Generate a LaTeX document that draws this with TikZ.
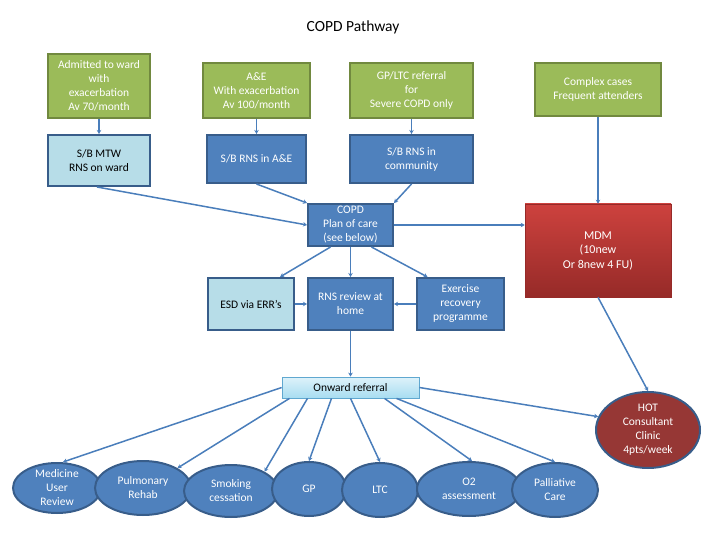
\documentclass[tikz,border=0pt]{standalone}
\usepackage{fontspec}
\setmainfont{Carlito}
\usetikzlibrary{shapes.geometric,arrows.meta,positioning}
\definecolor{entrygreen}{RGB}{155,187,89}
\definecolor{entryedge}{RGB}{113,137,63}
\definecolor{rnsblue}{RGB}{79,129,189}
\definecolor{rnsedge}{RGB}{56,93,138}
\definecolor{paleblue}{RGB}{183,221,232}
\definecolor{linkblue}{RGB}{74,126,187}
\definecolor{mdmtop}{RGB}{205,66,62}
\definecolor{mdmbottom}{RGB}{150,42,40}
\definecolor{hotred}{RGB}{150,55,53}
\definecolor{refertop}{RGB}{222,242,250}
\definecolor{referbottom}{RGB}{168,221,241}
\definecolor{referedge}{RGB}{96,168,208}
\tikzset{
    basebox/.style={rectangle, align=center, inner sep=1pt, font=\fontsize{11.5}{14}\selectfont},
    greenbox/.style={basebox, draw=entryedge, line width=2pt, fill=entrygreen, text=white},
    bluebox/.style={basebox, draw=rnsedge, line width=2pt, fill=rnsblue, text=white},
    palebox/.style={basebox, draw=rnsedge, line width=2pt, fill=paleblue, text=black},
    mdmbox/.style={basebox, draw=mdmbottom, line width=0.6pt, top color=mdmtop, bottom color=mdmbottom, text=white, font=\fontsize{12}{14.5}\selectfont},
    referbox/.style={basebox, draw=referedge, line width=0.8pt, top color=refertop, bottom color=referbottom, text=black},
    bubble/.style={ellipse, align=center, inner xsep=0pt, inner ysep=-2pt, draw=rnsedge, line width=2pt, fill=rnsblue, text=white, font=\fontsize{11.5}{14}\selectfont},
    hotbubble/.style={bubble, fill=hotred},
    arrow/.style={draw=linkblue, line width=1.5pt, -{Stealth[length=4pt,width=4.5pt]}}
}

\begin{document}
\begin{tikzpicture}[x=1pt,y=-1pt]
\useasboundingbox (0,0) rectangle (720,540);

% Title
\node[font=\fontsize{15.5}{18}\selectfont] (title) at (353,27) {COPD Pathway};

% Entry routes (top row)
\node[greenbox, minimum width=102, minimum height=64] (admitted) at (99,86) {Admitted to ward\\with\\exacerbation\\Av 70/month};
\node[greenbox, minimum width=107, minimum height=55] (ae_entry) at (256.5,90.5) {A\&E\\With exacerbation\\Av 100/month};
\node[greenbox, minimum width=123, minimum height=55] (gp_referral) at (411.5,90.5) {GP/LTC referral\\for\\Severe COPD only};
\node[greenbox, minimum width=126, minimum height=53] (complex) at (598,89.5) {Complex cases\\Frequent attenders};

% Seen by
\node[palebox, minimum width=102, minimum height=51] (sb_mtw) at (99,160.5) {S/B MTW\\RNS on ward};
\node[bluebox, minimum width=99, minimum height=48] (sb_ae) at (256.5,159) {S/B RNS in A\&E};
\node[bluebox, minimum width=123, minimum height=48] (sb_comm) at (411.5,159) {S/B RNS in\\community};

% Plan of care and MDM
\node[bluebox, minimum width=85, minimum height=42] (plan) at (350.5,225) {COPD\\Plan of care\\(see below)};
\node[mdmbox, minimum width=146, minimum height=93] (mdm) at (598,250.5) {MDM\\(10new\\Or 8new 4 FU)};

% Care at home
\node[palebox, minimum width=86, minimum height=52] (esd) at (251,304) {ESD via ERR's};
\node[bluebox, minimum width=85, minimum height=52] (rns_home) at (350.5,304) {RNS review at\\home};
\node[bluebox, minimum width=87, minimum height=52] (exercise) at (460.5,304) {Exercise\\recovery\\programme};

% Onward referral and clinic
\node[referbox, minimum width=137, minimum height=21] (onward) at (350.5,387.5) {Onward referral};
\node[hotbubble, minimum width=104, minimum height=76] (hot) at (648,430) {HOT\\Consultant\\Clinic\\4pts/week};

% Services (bottom row)
\node[bubble, minimum width=88, minimum height=50] (medicine) at (57,488) {Medicine\\User\\Review};
\node[bubble, minimum width=96, minimum height=54] (pulm_rehab) at (143,488) {Pulmonary\\Rehab};
\node[bubble, minimum width=94, minimum height=52] (smoking) at (231,491) {Smoking\\cessation};
\node[bubble, minimum width=74, minimum height=54] (gp) at (309,489) {GP};
\node[bubble, minimum width=76, minimum height=54] (ltc) at (380,490) {LTC};
\node[bubble, minimum width=104, minimum height=54] (o2) at (469,489) {O2\\assessment};
\node[bubble, minimum width=86, minimum height=54] (palliative) at (555,490) {Palliative\\Care};

% Top flow
\draw[arrow] (admitted) -- (sb_mtw);
\draw[arrow] (ae_entry) -- (sb_ae);
\draw[arrow] (gp_referral) -- (sb_comm);
\draw[arrow] (complex) -- (mdm);

% Into plan of care
\draw[arrow] ([xshift=-2pt]sb_mtw.south) -- (plan.west);
\draw[arrow] (sb_ae.south) -- (plan.north west);
\draw[arrow] (sb_comm.south) -- (plan.north east);
\draw[arrow] (plan.east) -- (plan.east -| mdm.west);

% Plan of care outcomes
\draw[arrow] ([xshift=-20pt]plan.south) -- ([xshift=29pt]esd.north);
\draw[arrow] (plan) -- (rns_home);
\draw[arrow] ([xshift=21pt]plan.south) -- ([xshift=-33pt]exercise.north);
\draw[arrow] (esd) -- (rns_home);
\draw[arrow] (exercise) -- (rns_home);
\draw[arrow] (rns_home) -- (onward);
\draw[arrow] (mdm.south) -- (hot.north);
\draw[arrow] (onward.east) -- (hot.165);

% Onward referral to services
\draw[arrow] (onward.west) -- ([xshift=6pt]medicine.north);
\draw[arrow] ([xshift=-61pt]onward.south) -- (pulm_rehab.30);
\draw[arrow] ([xshift=-43pt]onward.south) -- (smoking.30);
\draw[arrow] ([xshift=-19pt]onward.south) -- (gp.north);
\draw[arrow] (onward.south) -- (ltc.north);
\draw[arrow] ([xshift=34pt]onward.south) -- ([xshift=3pt]o2.north);
\draw[arrow] ([xshift=46pt]onward.south) -- (palliative.north);

\end{tikzpicture}
\end{document}
